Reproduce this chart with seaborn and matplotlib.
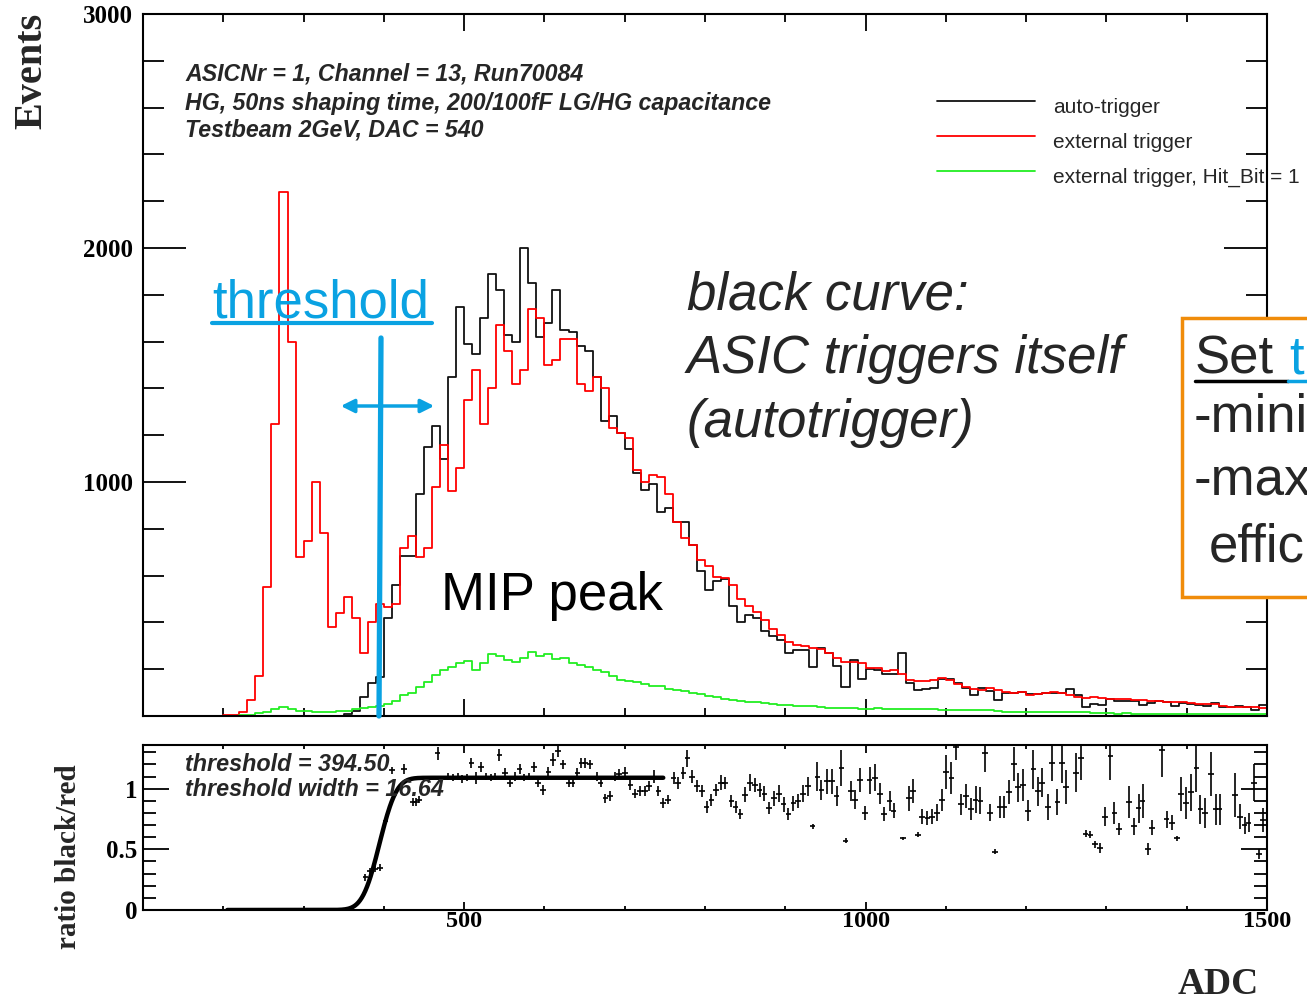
import numpy as np
import pandas as pd
import matplotlib
matplotlib.use("Agg")
import matplotlib.pyplot as plt
import seaborn as sns
from matplotlib.lines import Line2D
from matplotlib.patches import Rectangle, FancyArrowPatch
from matplotlib.ticker import MultipleLocator
from math import erf

# ---------------- data ----------------
hist_range = (100, 1500)
hist_bin = 10

auto_trigger = [0] * 24 + [
    2, 8, 22, 80, 140, 165,
    420, 560, 682, 685, 950, 1150, 1240, 1100, 1450, 1750,
    1590, 1545, 1700, 1890, 1820, 1630, 1600, 2000, 1850, 1620,
    1680, 1820, 1650, 1640, 1580, 1560, 1450, 1260, 1280, 1210,
    1140, 1040, 965, 990, 870, 890, 830, 830, 730, 620,
    540, 575, 585, 470, 400, 430, 420, 365, 340, 326,
    270, 282, 282, 210, 290, 270, 215, 123, 239, 160,
    200, 195, 180, 180, 268, 140, 110, 114, 118, 157,
    160, 140, 120, 90, 118, 105, 70, 100, 97, 104,
    95, 93, 97, 97, 100, 115, 90, 40, 50, 45,
    72, 64, 63, 62, 45, 55, 64, 58, 42, 55,
    50, 47, 42, 55, 40, 40, 42, 38, 26, 45]

external_trigger = [
    0, 1, 1, 2, 1, 2, 2, 1, 2, 2,
    3, 5, 15, 70, 170, 550, 1250, 2240, 1600, 680,
    750, 1000, 780, 380, 440, 510, 420, 270, 400, 480,
    465, 480, 720, 770, 680, 720, 980, 1160, 960, 1060,
    1350, 1480, 1250, 1400, 1670, 1560, 1420, 1480, 1740, 1700,
    1500, 1520, 1610, 1610, 1420, 1390, 1450, 1400, 1230, 1210,
    1190, 1050, 1000, 1030, 1020, 950, 830, 760, 730, 667,
    640, 595, 590, 560, 500, 470, 445, 410, 370, 345,
    318, 304, 300, 290, 285, 270, 246, 232, 232, 225,
    205, 204, 193, 195, 178, 155, 151, 148, 154, 161,
    152, 135, 122, 115, 111, 118, 111, 104, 100, 104,
    90, 95, 97, 104, 100, 90, 80, 75, 83, 78,
    71, 73, 72, 68, 68, 65, 65, 61, 61, 58,
    57, 52, 51, 50, 42, 40, 40, 38, 37, 35]

external_hitbit = [
    0, 0, 0, 0, 0, 0, 0, 0, 1, 1,
    2, 2, 3, 5, 12, 15, 30, 37, 28, 22,
    20, 15, 15, 15, 20, 22, 28, 33, 37, 42,
    50, 65, 90, 100, 125, 145, 175, 195, 210, 228,
    235, 195, 225, 265, 258, 240, 232, 250, 275, 258,
    265, 245, 250, 228, 220, 208, 195, 190, 170, 155,
    150, 145, 135, 130, 128, 115, 112, 105, 100, 92,
    87, 80, 72, 70, 62, 58, 58, 55, 50, 48,
    45, 43, 44, 42, 40, 36, 35, 33, 34, 32,
    32, 33, 31, 30, 32, 30, 29, 28, 30, 27,
    26, 27, 25, 26, 24, 25, 20, 18, 19, 18,
    18, 17, 18, 16, 17, 18, 16, 15, 14, 12,
    11, 10, 11, 10, 10, 9, 10, 10, 9, 10,
    10, 9, 10, 9, 10, 9, 9, 10, 9, 10]

legend_labels = ["auto-trigger", "external trigger", "external trigger, Hit_Bit = 1"]
info_lines = ["ASICNr = 1, Channel = 13, Run70084",
              "HG, 50ns shaping time, 200/100fF LG/HG capacitance",
              "Testbeam 2GeV, DAC = 540"]
box_lines = ["-mini", "-max", "effic"]

ratio_adc = [377, 383, 389, 395, 402, 410, 425, 436, 440, 444, 467, 480, 486, 492, 497, 503,
             509, 515, 521, 527, 533, 538, 544, 551, 557, 563, 569, 575, 581, 587, 592, 598,
             605, 611, 617, 623, 630, 635, 641, 646, 651, 657, 665, 670, 676, 682, 688, 693,
             700, 707, 713, 719, 725, 730, 737, 742, 748, 754, 761, 766, 773, 778, 784, 790,
             796, 802, 808, 814, 820, 825, 833, 838, 844, 850, 856, 862, 868, 874, 880, 886,
             892, 898, 904, 910, 916, 922, 928, 934, 940, 945, 952, 958, 964, 970, 975, 982,
             987, 993, 999, 1005, 1012, 1018, 1023, 1030, 1035, 1047, 1054, 1059, 1065, 1070,
             1077, 1083, 1089, 1095, 1100, 1107, 1113, 1119, 1125, 1131, 1137, 1143, 1149,
             1155, 1161, 1167, 1173, 1179, 1185, 1190, 1196, 1202, 1209, 1215, 1220, 1227,
             1232, 1239, 1245, 1250, 1262, 1268, 1274, 1280, 1286, 1292, 1298, 1305, 1310,
             1316, 1328, 1334, 1340, 1345, 1352, 1357, 1369, 1375, 1382, 1388, 1393, 1399,
             1405, 1412, 1417, 1423, 1430, 1436, 1441, 1460, 1466, 1472, 1477, 1484, 1490, 1495]
ratio_val = [0.27, 0.32, 0.34, 0.35, 0.73, 1.15, 1.16, 0.89, 0.89, 0.91, 1.29, 1.10, 1.09, 1.10, 1.08, 1.09,
             1.21, 1.09, 1.18, 1.10, 1.09, 1.10, 1.28, 1.13, 1.05, 1.10, 1.16, 1.09, 1.10, 1.18, 1.05, 0.99,
             1.14, 1.24, 1.31, 1.20, 1.05, 1.05, 1.13, 1.21, 1.21, 1.20, 1.10, 1.05, 0.92, 0.94, 1.10, 1.12,
             1.13, 1.03, 0.96, 0.98, 0.98, 1.02, 1.10, 0.98, 0.88, 0.91, 1.09, 1.05, 1.13, 1.25, 1.10, 1.02,
             0.98, 0.85, 0.91, 0.99, 1.05, 1.05, 0.90, 0.85, 0.79, 0.95, 1.05, 1.03, 0.99, 0.96, 0.84, 0.92,
             0.96, 0.87, 0.79, 0.88, 0.90, 0.96, 1.02, 0.69, 1.10, 0.99, 1.06, 1.06, 0.94, 1.17, 0.57, 0.98,
             0.91, 1.07, 0.80, 1.07, 1.09, 0.96, 0.79, 0.90, 0.82, 0.59, 0.92, 0.98, 0.62, 0.77,
             0.76, 0.77, 0.80, 0.91, 1.14, 1.09, 1.34, 0.87, 0.94, 0.83, 0.91, 0.90, 1.29,
             0.80, 0.48, 0.85, 0.85, 0.97, 1.20, 1.01, 1.03, 0.82, 1.16, 0.98, 1.05, 0.85,
             1.21, 0.89, 1.21, 1.01, 1.13, 1.25, 0.63, 0.62, 0.54, 0.51, 0.77, 1.27, 0.80,
             0.67, 0.89, 0.69, 0.84, 0.90, 0.50, 0.68, 1.32, 0.75, 0.72, 0.59, 0.96, 0.88,
             0.97, 1.17, 0.83, 0.80, 1.12, 0.83, 0.83, 0.95, 0.77, 0.70, 0.72, 1.05, 0.46, 0.74]
ratio_err = [0.03, 0.03, 0.03, 0.03, 0.03, 0.03, 0.04, 0.03, 0.03, 0.03, 0.05, 0.03, 0.03, 0.03, 0.03, 0.03,
             0.04, 0.05, 0.04, 0.03, 0.03, 0.03, 0.05, 0.04, 0.04, 0.04, 0.04, 0.03, 0.03, 0.04, 0.04, 0.04,
             0.04, 0.05, 0.05, 0.04, 0.04, 0.04, 0.04, 0.04, 0.04, 0.04, 0.04, 0.04, 0.04, 0.04, 0.04, 0.04,
             0.05, 0.04, 0.04, 0.04, 0.04, 0.04, 0.05, 0.04, 0.04, 0.04, 0.05, 0.05, 0.05, 0.07, 0.05, 0.05,
             0.05, 0.05, 0.05, 0.05, 0.06, 0.05, 0.05, 0.05, 0.04, 0.06, 0.07, 0.06, 0.06, 0.06, 0.05, 0.06,
             0.07, 0.06, 0.05, 0.06, 0.06, 0.07, 0.08, 0.02, 0.12, 0.08, 0.10, 0.10, 0.08, 0.15, 0.02, 0.08,
             0.08, 0.10, 0.06, 0.11, 0.11, 0.09, 0.06, 0.08, 0.06, 0.01, 0.10, 0.10, 0.02, 0.06,
             0.06, 0.06, 0.07, 0.09, 0.14, 0.13, 0.10, 0.09, 0.10, 0.09, 0.11, 0.11, 0.15,
             0.07, 0.02, 0.09, 0.09, 0.10, 0.14, 0.12, 0.13, 0.09, 0.16, 0.12, 0.12, 0.11,
             0.15, 0.11, 0.16, 0.14, 0.16, 0.18, 0.03, 0.03, 0.03, 0.04, 0.08, 0.20, 0.09,
             0.05, 0.13, 0.07, 0.12, 0.14, 0.05, 0.06, 0.22, 0.07, 0.06, 0.02, 0.14, 0.13,
             0.15, 0.20, 0.12, 0.12, 0.18, 0.13, 0.13, 0.18, 0.10, 0.07, 0.08, 0.15, 0.04, 0.10]

fit_threshold = 394.50
fit_width = 16.64
fit_plateau = 1.09
fit_range = (205, 748)

# ---------------- style ----------------
sns.set_style("ticks")
plt.rcParams['font.family'] = ['Liberation Sans', 'DejaVu Sans']
plt.rcParams['axes.edgecolor'] = 'black'
plt.rcParams['xtick.color'] = 'black'
plt.rcParams['ytick.color'] = 'black'

W, H = 1307, 1002
fig = plt.figure(figsize=(W / 100, H / 100), dpi=100)


def fx(px):
    return px / W


def fy(py):
    return 1 - py / H


BLUE = "#0AA2E2"
ORANGE = "#F08C0A"
GREEN = "#22EE22"
SERIF = ['Liberation Serif', 'DejaVu Serif']

ax = fig.add_axes([fx(143), fy(716), (1267 - 143) / W, (716 - 14) / H])
axr = fig.add_axes([fx(143), fy(910), (1267 - 143) / W, (910 - 745) / H])

centers = np.arange(hist_range[0], hist_range[1], hist_bin) + hist_bin / 2

for vals, col in [(auto_trigger, "#111111"), (external_trigger, "#FF0000"), (external_hitbit, GREEN)]:
    df = pd.DataFrame({"adc": centers, "events": np.asarray(vals, dtype=float)})
    sns.histplot(data=df, x="adc", weights="events", binwidth=hist_bin, binrange=hist_range,
                 element="step", fill=False, color=col, linewidth=1.3, ax=ax)

ax.set_xlim(*hist_range)
ax.set_ylim(0, 3000)
ax.set_xlabel("")
ax.set_ylabel("")
ax.xaxis.set_major_locator(MultipleLocator(500))
ax.xaxis.set_minor_locator(MultipleLocator(100))
ax.set_yticks([0, 1000, 2000, 3000], labels=["", "1000", "2000", "3000"])
ax.yaxis.set_minor_locator(MultipleLocator(200))
ax.tick_params(which='both', direction='in', top=True, right=True, labelbottom=False, width=1.3, pad=7)
ax.tick_params(axis='y', which='major', length=31, labelsize=18)
ax.tick_params(axis='y', which='minor', length=15)
ax.tick_params(axis='x', which='major', length=12)
ax.tick_params(axis='x', which='minor', length=6)
for lab in ax.get_yticklabels():
    lab.set_fontfamily(SERIF)
    lab.set_fontweight('bold')
for s in ax.spines.values():
    s.set_linewidth(1.5)

# ---------------- ratio panel ----------------
fit_x = np.linspace(fit_range[0], fit_range[1], 500)
fit_vals = fit_plateau * 0.5 * (1 + np.vectorize(erf)((fit_x - fit_threshold) / (np.sqrt(2) * fit_width)))
axr.errorbar(ratio_adc, ratio_val, yerr=ratio_err, xerr=3.5, fmt='none', ecolor='black',
             elinewidth=1.2, capsize=0)
sns.lineplot(x=fit_x, y=fit_vals, color='black', linewidth=3.2, ax=axr)
axr.set_xlim(*hist_range)
axr.set_ylim(0, 1.36)
axr.set_xlabel("")
axr.set_ylabel("")
axr.set_xticks([500, 1000, 1500])
axr.xaxis.set_minor_locator(MultipleLocator(100))
axr.set_yticks([0, 0.5, 1], labels=["0", "0.5", "1"])
axr.yaxis.set_minor_locator(MultipleLocator(0.1))
axr.tick_params(which='both', direction='in', top=True, right=True, width=1.3)
axr.tick_params(axis='y', which='major', length=19, labelsize=18, pad=4)
axr.tick_params(axis='y', which='minor', length=9.5)
axr.tick_params(axis='x', which='major', length=6, labelsize=17.5, pad=1)
axr.tick_params(axis='x', which='minor', length=3)
for lab in axr.get_yticklabels() + axr.get_xticklabels():
    lab.set_fontfamily(SERIF)
    lab.set_fontweight('bold')
for s in axr.spines.values():
    s.set_linewidth(1.5)

fig.text(fx(185), fy(771), f"threshold = {fit_threshold:.2f}", fontsize=16.8,
         fontweight='bold', fontstyle='italic', va='baseline')
fig.text(fx(185), fy(796), f"threshold width = {fit_width:.2f}", fontsize=16.8,
         fontweight='bold', fontstyle='italic', va='baseline')

# ---------------- axis titles ----------------
fig.text(fx(32), fy(71), "Events", rotation=90, ha='center', va='center',
         fontsize=29, fontweight='bold', family=SERIF)
fig.text(fx(68), fy(857), "ratio black/red", rotation=90, ha='center', va='center',
         fontsize=21, fontweight='bold', family=SERIF)
fig.text(fx(1218), fy(984), "ADC", ha='center', va='center',
         fontsize=27, fontweight='bold', family=SERIF)

# ---------------- info text ----------------
for line, yb in zip(info_lines, [80, 110, 136]):
    fig.text(fx(185), fy(yb), line, fontsize=16.7, fontweight='bold', fontstyle='italic', va='baseline')

# ---------------- legend ----------------
for yy, col, lab in zip([101, 136, 171], ["#111111", "#FF0000", GREEN], legend_labels):
    fig.add_artist(Line2D([fx(937), fx(1035)], [fy(yy), fy(yy)], color=col, lw=1.3))
    fig.text(fx(1053), fy(yy + 12), lab, fontsize=15, va='baseline', ha='left')

# ---------------- slide annotations ----------------
fig.text(fx(212), fy(317), "threshold", color=BLUE, fontsize=38, va='baseline')
fig.add_artist(Line2D([fx(212), fx(432)], [fy(323), fy(323)], color=BLUE, lw=3))
fig.add_artist(Line2D([fx(381), fx(379)], [fy(338), fy(716)], color=BLUE, lw=3.8))
fig.add_artist(FancyArrowPatch((fx(338), fy(406)), (fx(437), fy(406)), transform=fig.transFigure,
                               arrowstyle='<|-|>', mutation_scale=20, color=BLUE, lw=2.5))
fig.text(fx(441), fy(610), "MIP peak", color='black', fontsize=38, va='baseline')
for txt, yb in zip(["black curve:", "ASIC triggers itself", "(autotrigger)"], [309, 373, 437]):
    fig.text(fx(687), fy(yb), txt, fontsize=38, fontstyle='italic', va='baseline')

fig.add_artist(Rectangle((fx(1182), fy(597)), fx(1400) - fx(1182), fy(318) - fy(597),
                         transform=fig.transFigure, facecolor='white', edgecolor=ORANGE, lw=2.5))
fig.text(fx(1195), fy(373), "Set", fontsize=38, va='baseline')
fig.text(fx(1289), fy(373), "th", fontsize=38, va='baseline', color=BLUE)
fig.add_artist(Line2D([fx(1195), fx(1288)], [fy(381), fy(381)], color='black', lw=2.5))
fig.add_artist(Line2D([fx(1288), fx(1310)], [fy(381), fy(381)], color=BLUE, lw=2.5))
for txt, xx, yb in zip(box_lines, [1194, 1194, 1209], [432, 495, 561]):
    fig.text(fx(xx), fy(yb), txt, fontsize=38, va='baseline')

fig.savefig("out.png", dpi=100)
